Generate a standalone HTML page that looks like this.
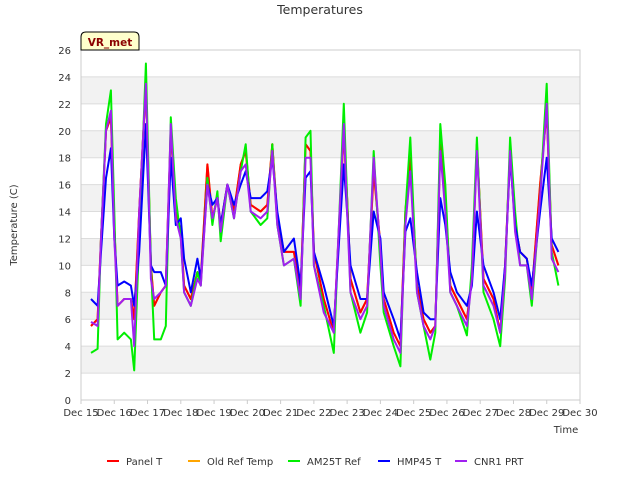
<!DOCTYPE html>
<html><head><meta charset="utf-8"><style>
body{margin:0;background:#fff;}
svg{display:block;font-family:"DejaVu Sans","Liberation Sans",sans-serif;}
</style></head><body>
<svg id="chart" width="640" height="480">
<text x="320" y="14" text-anchor="middle" font-size="12.5" fill="#333">Temperatures</text>
<g id="grid"></g>
<g id="series"></g>
<g id="axes"></g>
<text x="17" y="225" transform="rotate(-90 17 225)" text-anchor="middle" font-size="10" fill="#333">Temperature (C)</text>
<text x="566" y="433" text-anchor="middle" font-size="10" fill="#333">Time</text>
<g>
<path d="M81,50 L81,37 Q81,32 86,32 L134,32 Q139,32 139,37 L139,50 Z" fill="#ffffcc" stroke="#000" stroke-width="1"/>
<text x="110" y="46" text-anchor="middle" font-size="10.5" font-weight="bold" fill="#8b0000">VR_met</text>
</g>
<g id="legend"></g>
</svg>
<script>
const times=[15.3,15.5,15.6,15.75,15.9,16.0,16.1,16.3,16.5,16.6,16.75,16.95,17.1,17.2,17.4,17.55,17.7,17.85,18.0,18.1,18.3,18.5,18.6,18.8,18.95,19.1,19.2,19.4,19.6,19.8,19.95,20.1,20.4,20.6,20.75,20.9,21.1,21.4,21.6,21.75,21.9,22.0,22.3,22.6,22.9,23.0,23.1,23.4,23.6,23.8,24.0,24.1,24.4,24.6,24.75,24.9,25.1,25.3,25.5,25.65,25.8,25.95,26.1,26.3,26.6,26.75,26.9,27.1,27.4,27.6,27.75,27.9,28.05,28.2,28.4,28.55,28.8,29.0,29.15,29.35];
const panelT=[5.5,6,12,20,21,13,7,7.5,7.5,6,14,23.5,10,7,8,8.5,20,14,12.5,8.5,7.5,9.5,9,17.5,13.5,15,13,16,14,17.5,18.5,14.5,14,14.5,19,13.5,11,11,8,19,18.5,11,7.5,5,20,15,9,6.5,7.5,17,11.5,7.5,5,4,14,18,8.5,6,5,5.5,19,15,8.5,7.5,6,9,19,9,7.5,5,10,18.5,13,11,10.5,8,16,21.5,11.5,10];
const oldRef=panelT.slice();
const am25t=[3.5,3.8,12,20.5,23,14,4.5,5,4.5,2.2,12,25,10,4.5,4.5,5.5,21,15,12,8,7,9.5,8.5,16.5,13,15.5,11.8,16,13.5,17,19,14,13,13.5,19,13,10,10.5,7,19.5,20,10,7,3.5,22,15,8,5,6.5,18.5,10,6.5,4,2.5,14,19.5,8,5.5,3,5,20.5,16,8,7,4.8,10,19.5,8,6,4,9,19.5,14,10,10,7,15,23.5,11,8.5];
const hmp45=[7.5,7,11,16.5,18.7,12,8.5,8.8,8.5,7,11,20.5,10,9.5,9.5,8.5,18,13,13.5,10.5,8,10.5,9,16,14.5,15,13,16,14.5,16,17,15,15,15.5,18,14,11,12,8.5,16.5,17,11,8.5,5.5,17.5,14,10,7.5,7.5,14,12,8,6,4.5,12.5,13.5,9.5,6.5,6,6,15,13,9.5,8,7,8.5,14,10,8,6,10,18,13,11,10.5,8.5,14,18,12,11];
const cnr1=[5.8,5.5,12,20,21.5,12,7,7.5,7.5,4,14,23.5,9,7.5,8,8.5,20.5,13.5,12,8,7,9,8.5,16,13.5,15,12.5,16,13.5,17,17.5,14,13.5,14,18.5,13,10,10.5,7.5,18,18,10,6.5,5,20.5,14,8,6,7,18,11,7,4.5,3.5,13,17,8,5.5,4.5,5.5,18.5,14,8,7,5.5,9,18.5,8.5,7,5,9.5,18.5,12.5,10,10,7.5,15,22,10.5,9.5];
const yTicks=[0,2,4,6,8,10,12,14,16,18,20,22,24,26];
const xTickDays=[15,16,17,18,19,20,21,22,23,24,25,26,27,28,29,30];
const seriesNames=["Panel T","Old Ref Temp","AM25T Ref","HMP45 T","CNR1 PRT"];

const NS="http://www.w3.org/2000/svg";
const L=81,R=580,T=50,B=400;
const xS=d=>L+(d-15)/15*(R-L);
const yS=v=>B-v/26*(B-T);
function mk(tag,attrs,parent){const e=document.createElementNS(NS,tag);for(const k in attrs)e.setAttribute(k,attrs[k]);parent.appendChild(e);return e;}
const grid=document.getElementById('grid'),axes=document.getElementById('axes'),ser=document.getElementById('series'),leg=document.getElementById('legend');
mk('rect',{x:L,y:T,width:R-L,height:B-T,fill:'#fff'},grid);
for(let i=0;i<yTicks.length-1;i++){
  if(i%2===1){const r=mk('rect',{x:L,y:yS(yTicks[i+1]),width:R-L,height:yS(yTicks[i])-yS(yTicks[i+1]),fill:'#f2f2f2'},grid);
  
  }
}
yTicks.forEach(v=>{
  mk('line',{x1:L,x2:R,y1:yS(v),y2:yS(v),stroke:'#dcdcdc','stroke-width':1},grid);
  const t=mk('text',{x:L-10,y:yS(v)+4,'text-anchor':'end','font-size':10,fill:'#333'},axes);t.textContent=v;
  
  
});
xTickDays.forEach(d=>{
  mk('line',{x1:xS(d),x2:xS(d),y1:B,y2:B+4,stroke:'#ccc'},axes);
  const t=mk('text',{x:xS(d),y:B+16,'text-anchor':'middle','font-size':10,fill:'#333'},axes);t.textContent='Dec '+d;
  
  
});
mk('rect',{x:L,y:T,width:R-L,height:B-T,fill:'none',stroke:'#ccc'},axes);
const data=[panelT,oldRef,am25t,hmp45,cnr1];
const colors=['#ff0000','#ffa500','#00ee00','#0000ff','#a020f0'];
const drawOrder=[1,0,2,3,4];
drawOrder.forEach(i=>{
  const vals=data[i];
  const n=Math.min(times.length,vals.length);let d='';
  for(let j=0;j<n;j++)d+=(j?'L':'M')+xS(times[j]).toFixed(1)+','+yS(vals[j]).toFixed(1);
  const p=mk('path',{d:d,fill:'none',stroke:colors[i],'stroke-width':2,'stroke-linejoin':'round'},ser);
  
  
});
const legX=[107,188,288,378,455];
seriesNames.forEach((nm,i)=>{
  const g=mk('g',{},leg);
  
  
  mk('line',{x1:legX[i],x2:legX[i]+12,y1:461,y2:461,stroke:colors[i],'stroke-width':2},g);
  const t=mk('text',{x:legX[i]+19,y:465,'font-size':10,fill:'#333'},g);t.textContent=nm;
});
</script>
</body></html>
